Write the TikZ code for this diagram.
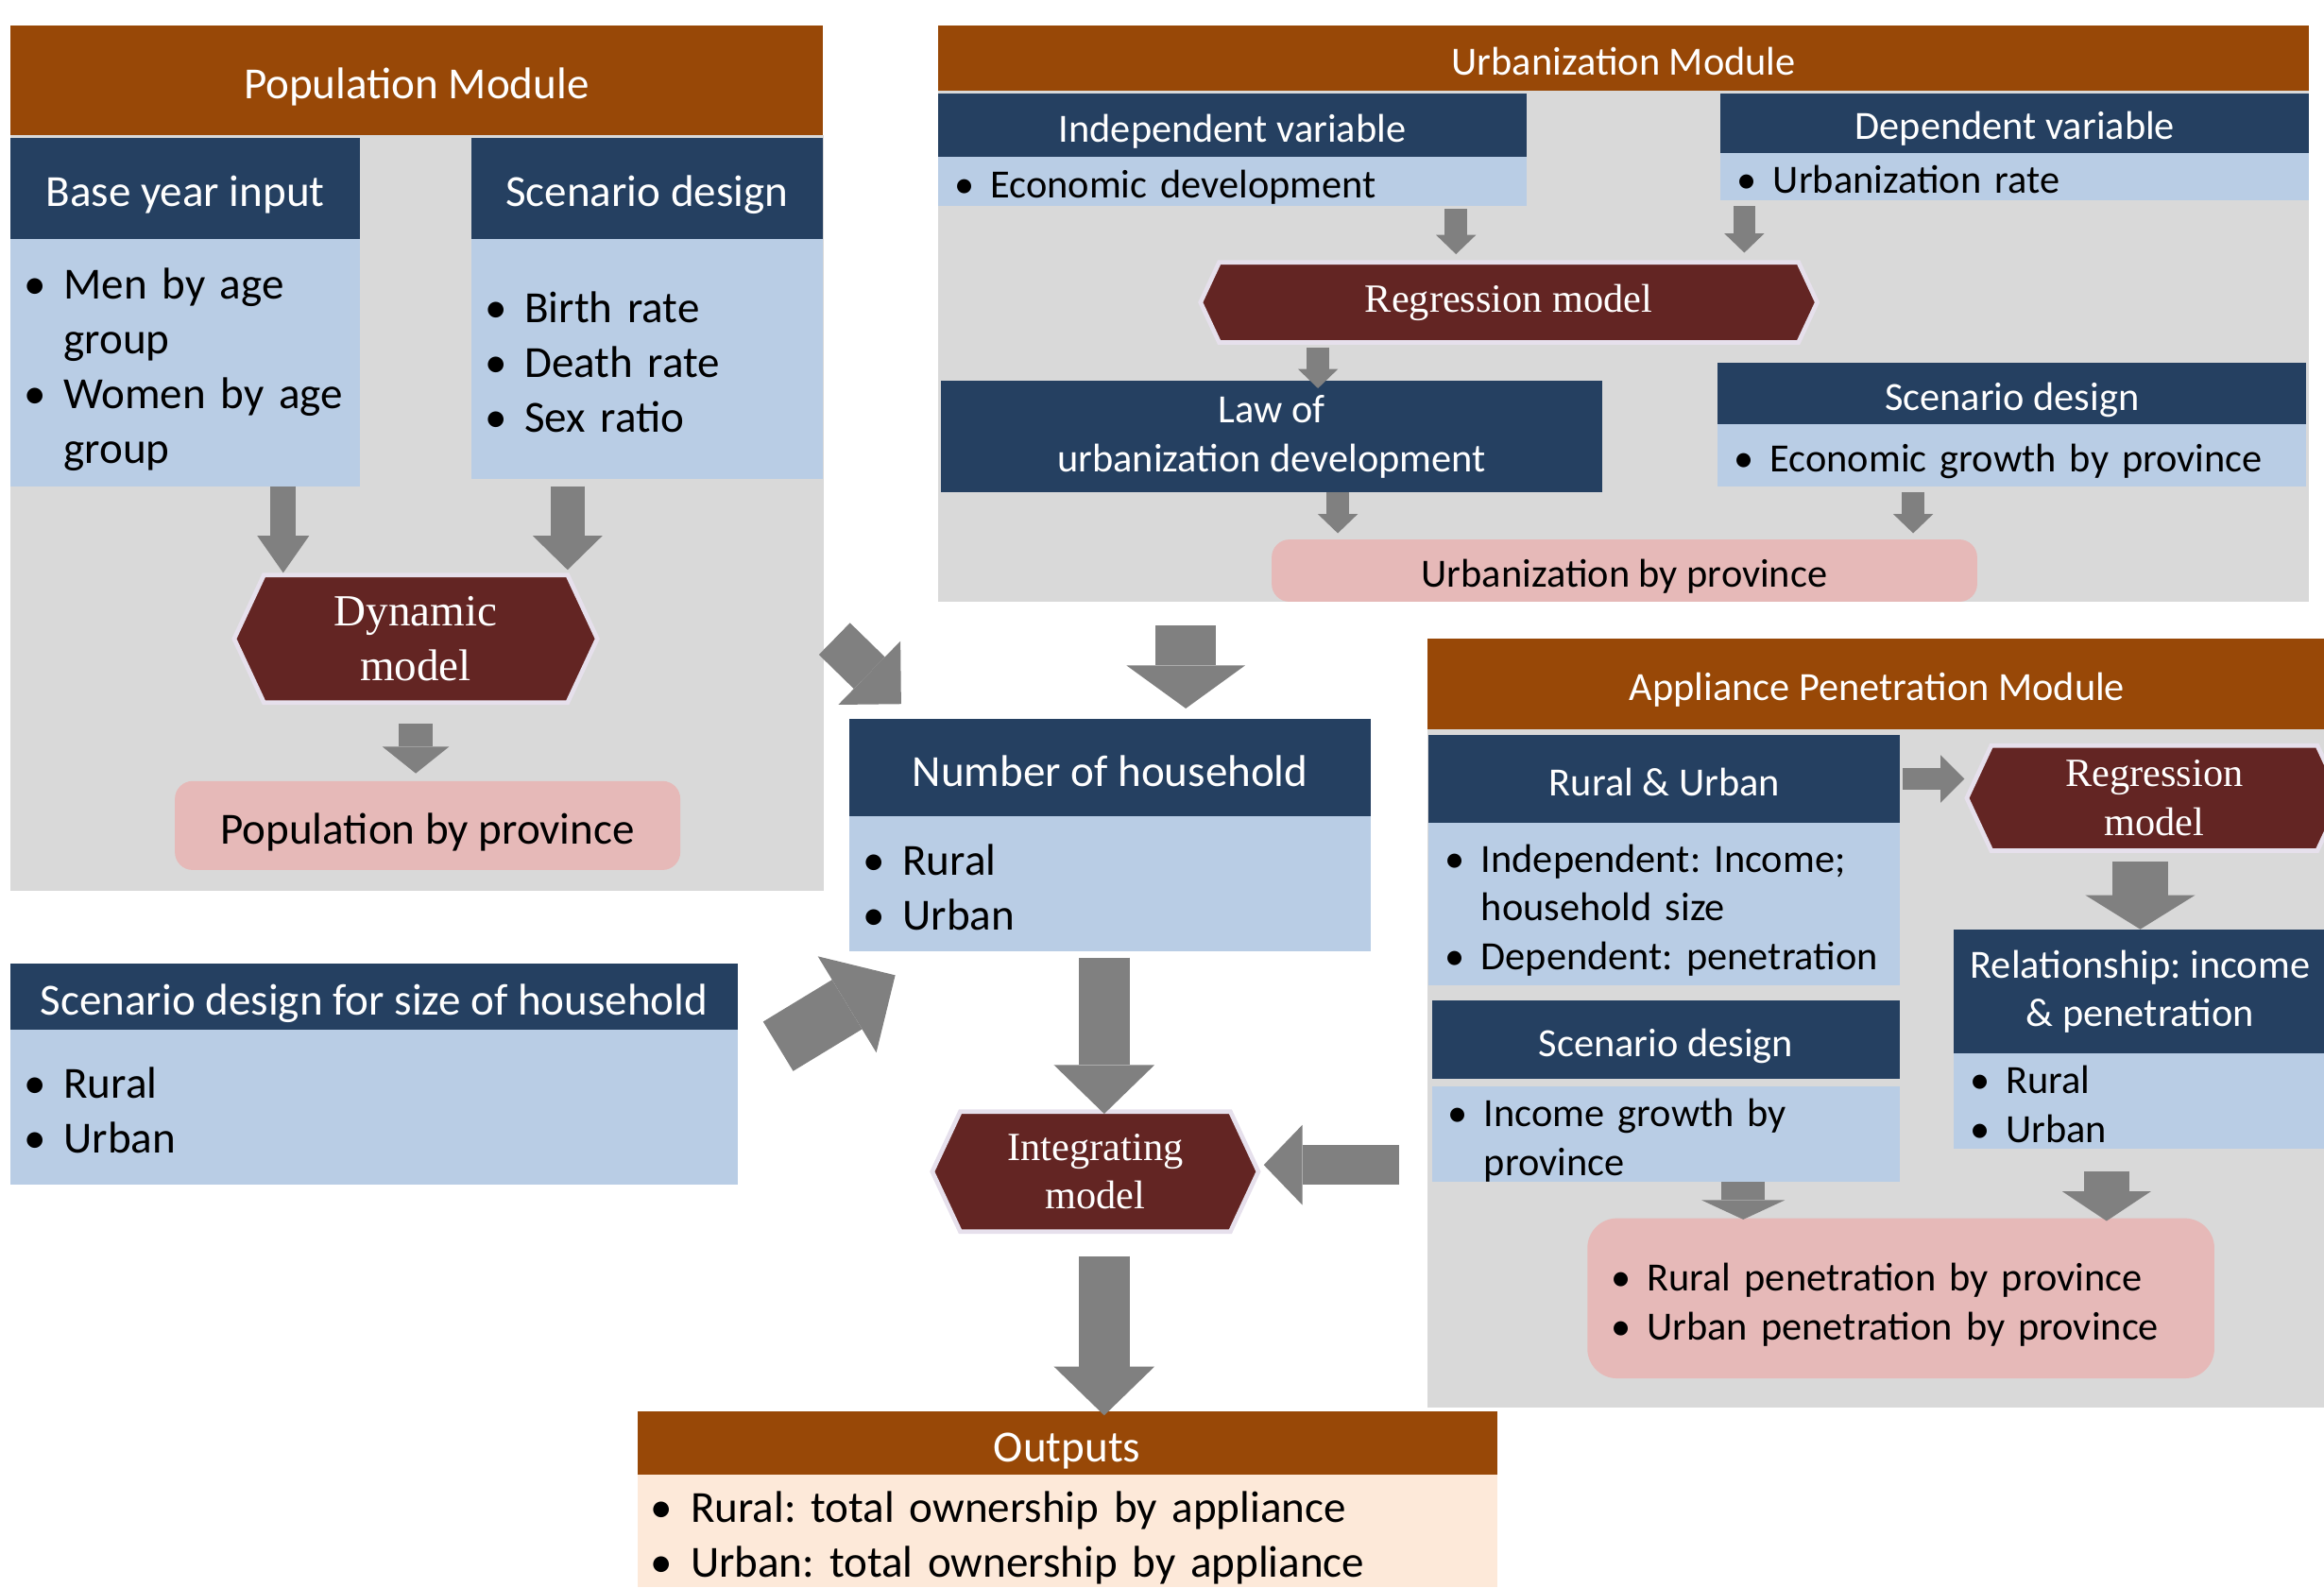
\documentclass[tikz,border=0pt]{standalone}
\usepackage{fontspec}
\setmainfont{Carlito}
\newfontfamily\hexserif{Liberation Serif}
\usetikzlibrary{arrows.meta,positioning,calc,shapes.symbols}
\definecolor{modbrown}{HTML}{984807}
\definecolor{hdnavy}{HTML}{254061}
\definecolor{paleblue}{HTML}{B9CDE5}
\definecolor{panelgrey}{HTML}{D9D9D9}
\definecolor{hexred}{HTML}{632523}
\definecolor{hexrim}{HTML}{E6E0EC}
\definecolor{rosy}{HTML}{E6B9B8}
\definecolor{peach}{HTML}{FDE9D9}
\definecolor{arrgrey}{HTML}{808080}
\newcommand{\ftxt}{\fontsize{30}{37}\selectfont}
\newcommand{\ftxs}{\fontsize{27}{33}\selectfont}
\newcommand{\itm}{\makebox[0.9em][l]{\textbullet}}
\newcommand{\itmc}{\hspace*{0.9em}}
\frenchspacing

\begin{document}
\begin{tikzpicture}[x=1pt,y=-1pt,
  cell/.style={anchor=north west,inner sep=0pt,outer sep=0pt},
  strutted/.style={execute at begin node={\rule{0pt}{1em}},execute at end node={\rule[-0.15em]{0pt}{0.15em}}},
  bigtxt/.style={font=\ftxt,strutted},
  smalltxt/.style={font=\ftxs,strutted},
  panel/.style={cell,fill=panelgrey},
  modhead/.style={cell,fill=modbrown,text=white},
  darkhead/.style={cell,fill=hdnavy,text=white,align=center},
  listbody/.style={cell,fill=paleblue,align=left,inner xsep=11pt},
  biglist/.style={listbody,bigtxt,inner xsep=9pt},
  hexa/.style={signal,signal to=west and east,signal pointer angle=130,fill=hexred,draw=hexrim,line width=3pt,text=white,align=center,inner sep=0pt},
  result/.style={fill=rosy,rounded corners=12pt,align=center,inner sep=0pt},
  fat/.style n args={3}{draw=arrgrey,line width=#1,-{Triangle[width=#2,length=#3,line width=0pt]}}]
  \useasboundingbox (0,0) rectangle (1568,1071);

  % population module
  \node[panel,minimum width=549pt,minimum height=510pt] (popbg) at (7,91) {};
  \node[modhead,bigtxt,minimum width=548pt,minimum height=74pt] (popmod) at (7,17) {Population Module};
  \node[darkhead,bigtxt,minimum width=236pt,minimum height=68pt] (basehd) at (7,93) {Base year input};
  \node[biglist,text width=218pt,minimum height=167pt] (basebody) at (basehd.south west) {\itm Men by age\\\itmc group\\\itm \mbox{Women by age}\\\itmc group};
  \node[darkhead,bigtxt,minimum width=237pt,minimum height=68pt] (scenhd) at (318,93) {Scenario design};
  \node[biglist,text width=219pt,minimum height=162pt] (scenbody) at (scenhd.south west) {\itm Birth rate\\\itm Death rate\\\itm Sex ratio};
  \node[hexa,font=\hexserif\ftxt,minimum width=245pt,minimum height=86pt] (dyn) at (280.5,431) {Dynamic\\model};
  \node[result,bigtxt,minimum width=341pt,minimum height=60pt] (poprov) at (288.5,557) {Population by province};

  % urbanization module
  \node[panel,minimum width=925pt,minimum height=345pt] (urbbg) at (633,61) {};
  \node[modhead,smalltxt,minimum width=925pt,minimum height=44pt] (urbmod) at (633,17) {Urbanization Module};
  \node[darkhead,smalltxt,minimum width=397pt,minimum height=43pt] (indephd) at (633,63) {Independent variable};
  \node[listbody,smalltxt,text width=375pt,minimum height=33pt] (indepbody) at (indephd.south west) {\itm Economic development};
  \node[darkhead,smalltxt,minimum width=397pt,minimum height=40pt] (dephd) at (1161,63) {Dependent variable};
  \node[listbody,smalltxt,text width=375pt,minimum height=32pt] (depbody) at (dephd.south west) {\itm Urbanization rate};
  \node[hexa,font=\hexserif\ftxs,minimum width=416pt,minimum height=54pt] (urbreg) at (1018,204) {Regression model};
  \node[darkhead,smalltxt,minimum width=446pt,minimum height=75pt] (law) at (635,257) {Law of\\urbanization development};
  \node[darkhead,smalltxt,minimum width=397pt,minimum height=41pt] (urbscenhd) at (1159,245) {Scenario design};
  \node[listbody,smalltxt,text width=375pt,minimum height=42pt] (urbscenbody) at (urbscenhd.south west) {\itm Economic growth by province};
  \node[result,smalltxt,minimum width=476pt,minimum height=42pt] (urbprov) at (1096,385) {Urbanization by province};

  % household and outputs
  \node[darkhead,bigtxt,minimum width=352pt,minimum height=66pt] (hhhd) at (573,485) {Number of household};
  \node[biglist,text width=334pt,minimum height=91pt] (hhbody) at (hhhd.south west) {\itm Rural\\\itm Urban};
  \node[darkhead,bigtxt,minimum width=491pt,minimum height=45pt] (sizehd) at (7,650) {Scenario design for size of household};
  \node[biglist,text width=473pt,minimum height=104pt] (sizebody) at (sizehd.south west) {\itm Rural\\\itm Urban};
  \node[hexa,font=\hexserif\ftxs,minimum width=220pt,minimum height=81pt] (integ) at (739,790.5) {Integrating\\model};
  \node[modhead,bigtxt,minimum width=580pt,minimum height=43pt] (outhd) at (430,952) {Outputs};
  \node[cell,bigtxt,fill=peach,text width=562pt,inner xsep=9pt,minimum height=76pt,align=left] (outbody) at (outhd.south west) {\itm Rural: total ownership by appliance\\\itm Urban: total ownership by appliance};

  % appliance penetration module
  \node[panel,minimum width=607pt,minimum height=458pt] (appbg) at (963,492) {};
  \node[modhead,smalltxt,minimum width=607pt,minimum height=61pt] (appmod) at (963,431) {Appliance Penetration Module};
  \node[darkhead,smalltxt,minimum width=318pt,minimum height=59pt] (ruhd) at (964,496) {Rural \& Urban};
  \node[listbody,smalltxt,text width=296pt,minimum height=110pt] (rubody) at (ruhd.south west) {\itm Independent: Income;\\\itmc household size\\\itm Dependent: penetration};
  \node[hexa,font=\hexserif\ftxs,minimum width=253pt,minimum height=71pt] (appreg) at (1453.5,538.5) {Regression\\model};
  \node[darkhead,smalltxt,minimum width=252pt,minimum height=84pt] (relhd) at (1318,627) {Relationship: income\\\& penetration};
  \node[listbody,smalltxt,text width=230pt,minimum height=59pt] (relbody) at (relhd.south west) {\itm Rural\\\itm Urban};
  \node[darkhead,smalltxt,minimum width=316pt,minimum height=53pt] (apscenhd) at (966,675) {Scenario design};
  \node[listbody,smalltxt,text width=294pt,minimum height=63pt] (apscenbody) at (966,733) {\itm Income growth by\\\itmc province};
  \node[result,smalltxt,rounded corners=20pt,minimum width=423pt,minimum height=108pt,text width=391pt,inner xsep=16pt,align=left] (appprov) at (1282.5,876) {\itm Rural penetration by province\\\itm Urban penetration by province};

  % arrows
  \coordinate (p1) at ($(basebody.south west)!.78!(basebody.south east)$);
  \coordinate (p2) at ($(scenbody.south west)!.274!(scenbody.south east)$);
  \draw[fat={17pt}{35pt}{25pt}] (p1) -- (p1 |- dyn.north);
  \draw[fat={23pt}{47pt}{23pt},shorten <=5pt,shorten >=2pt] (p2) -- (p2 |- dyn.north);
  \draw[fat={23pt}{45pt}{18pt},shorten <=13pt,shorten >=5pt] (dyn.south) -- (dyn.south |- poprov.north);

  \coordinate (u1) at ($(indepbody.south west)!.88!(indepbody.south east)$);
  \coordinate (u2) at ($(depbody.south west)!.04!(depbody.south east)$);
  \coordinate (u3) at ($(law.north west)!.57!(law.north east)$);
  \coordinate (u4) at ($(law.south west)!.6!(law.south east)$);
  \coordinate (u5) at ($(urbscenbody.south west)!.332!(urbscenbody.south east)$);
  \draw[fat={15pt}{27pt}{13pt},shorten <=2pt,shorten >=4pt] (u1) -- (u1 |- urbreg.north);
  \draw[fat={15pt}{27pt}{13pt},shorten <=4pt,shorten >=5pt] (u2) -- (u2 |- urbreg.north);
  \draw[fat={15pt}{27pt}{13pt},shorten <=2pt,shorten >=-5pt] (u3 |- urbreg.south) -- (u3);
  \draw[fat={15pt}{27pt}{13pt},shorten >=4pt] (u4) -- (u4 |- urbprov.north);
  \draw[fat={15pt}{27pt}{13pt},shorten <=4pt,shorten >=4pt] (u5) -- (u5 |- urbprov.north);

  \coordinate (m0) at ($(hhhd.north west)!.645!(hhhd.north east)$);
  \coordinate (m1) at ($(hhbody.south)+(-4,0)$);
  \coordinate (l1) at ($(appbg.west)+(-19,65)$);
  \draw[fat={41pt}{80pt}{29pt},shorten <=16pt,shorten >=7pt] (m0 |- urbbg.south) -- (m0);
  \draw[fat={30pt}{60pt}{30pt}] ($(popbg.east)+(7,85)$) -- ($(hhhd.north west)+(35,-10)$);
  \draw[fat={39pt}{76pt}{38pt}] ($(sizehd.north east)+(27,56)$) -- ($(hhbody.south west)+(31,16)$);
  \draw[fat={34pt}{68pt}{33pt},shorten <=4pt,shorten >=-3pt] (m1) -- (m1 |- integ.north);
  \draw[fat={34pt}{68pt}{33pt},shorten <=15pt,shorten >=-3pt] (m1 |- integ.south) -- (m1 |- outhd.north);
  \draw[fat={27pt}{54pt}{26pt},shorten >=2pt] (l1) -- (l1 -| integ.east);

  \coordinate (a1) at ($(apscenbody.south west)!.665!(apscenbody.south east)$);
  \coordinate (a2) at ($(relbody.south west)!.41!(relbody.south east)$);
  \draw[fat={15pt}{32pt}{16pt},shorten <=2pt] (ruhd.east) -- (ruhd.east -| appreg.west);
  \draw[fat={37pt}{74pt}{23pt},shorten <=6pt] (relhd.north |- appreg.south) -- (relhd.north);
  \draw[fat={29pt}{56pt}{13pt},shorten >=-1pt] (a1) -- (a1 |- appprov.north);
  \draw[fat={31pt}{60pt}{20pt},shorten <=15pt,shorten >=-2pt] (a2) -- (a2 |- appprov.north);
\end{tikzpicture}
\end{document}
